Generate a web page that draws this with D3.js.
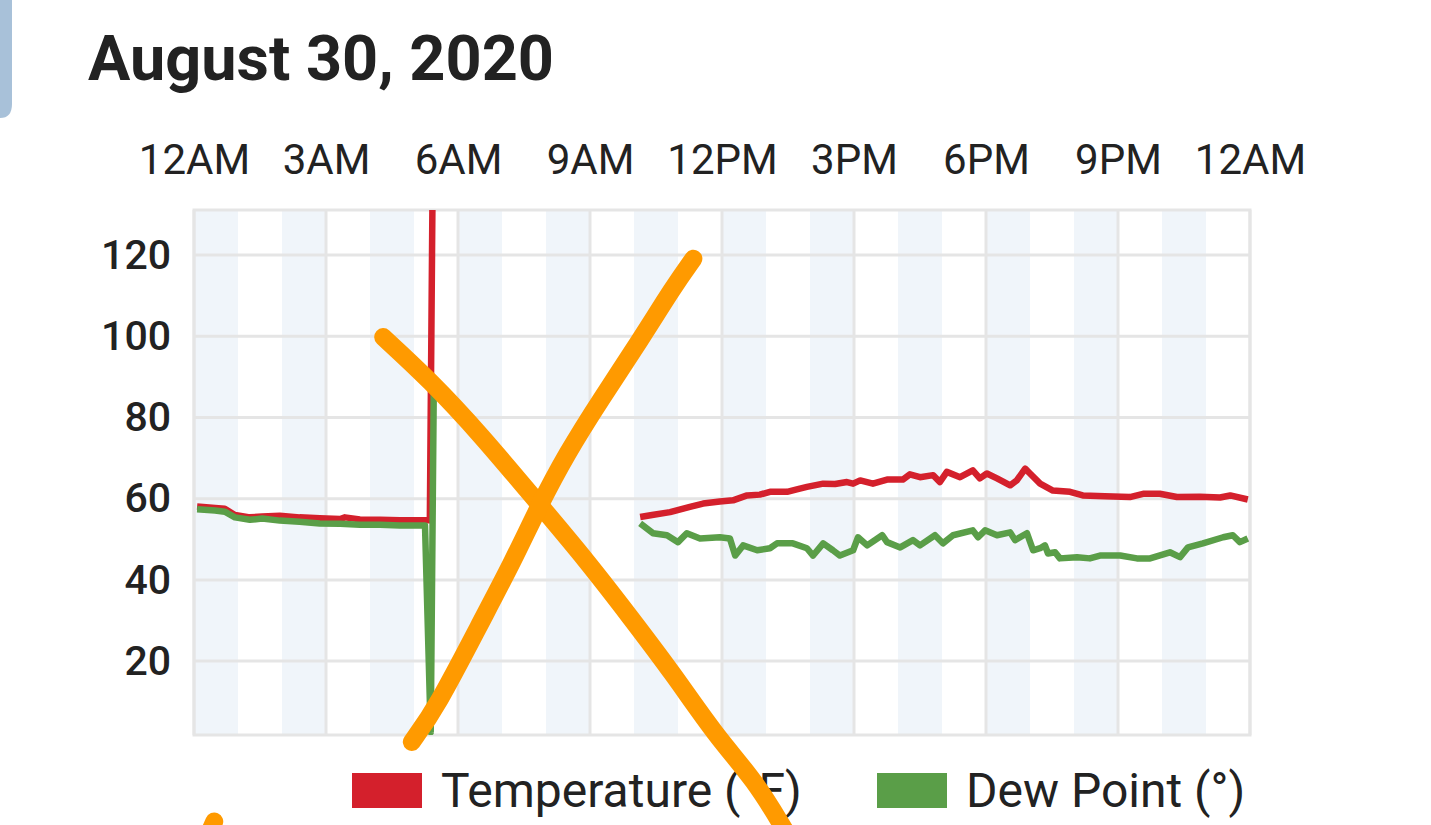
<!DOCTYPE html>
<html><head><meta charset="utf-8">
<script src="https://cdn.jsdelivr.net/npm/d3@7/dist/d3.min.js"></script>
<style>
html,body{margin:0;padding:0;background:#fff;overflow:hidden}
text{font-family:Roboto,"Noto Sans",sans-serif;fill:#222}
</style></head>
<body>
<svg id="c" width="1431" height="825"></svg>
<script>
// ---- data ----
const title = "August 30, 2020";
const xTickHours = [0,3,6,9,12,15,18,21,24];
const xTickLabels = ["12AM","3AM","6AM","9AM","12PM","3PM","6PM","9PM","12AM"];
const yTicks = [20,40,60,80,100,120];
const seriesNames = ["Temperature (°F)","Dew Point (°)"];
const seriesColors = ["#d4202c","#5a9e48"];

// temperature: [hour, value]; null = gap
const tempHours = [0.07,0.48,0.7,0.93,1.27,1.55,1.95,2.4,2.86,3.32,3.43,3.77,4.23,4.68,5.36,5.47,
  null,
  10.14,10.41,10.82,11.27,11.57,11.95,12.25,12.57,12.86,13.09,13.48,13.70,13.93,14.30,14.57,14.84,14.98,15.14,15.43,15.75,16.11,16.27,16.50,16.80,16.95,17.11,17.41,17.70,17.86,18.02,18.25,18.55,18.70,18.89,19.0,19.23,19.52,19.91,20.20,20.70,21.27,21.57,21.95,22.34,22.86,23.32,23.55,23.95];
const tempValues = [58.1,57.7,57.5,56.0,55.4,55.6,55.8,55.4,55.2,55.0,55.4,54.9,54.8,54.7,54.7,200,
  null,
  55.5,56.0,56.7,58.0,58.8,59.3,59.6,60.8,61.0,61.7,61.7,62.3,62.9,63.7,63.6,64.1,63.7,64.5,63.7,64.7,64.7,66.0,65.3,65.8,64.1,66.6,65.3,67.0,65.0,66.2,65.0,63.3,64.5,67.4,66.2,63.7,62.0,61.7,60.8,60.6,60.4,61.2,61.2,60.4,60.5,60.3,60.8,59.8];

const dewHours = [0.07,0.48,0.7,0.93,1.27,1.55,1.95,2.4,2.86,3.32,3.77,4.23,4.68,5.25,5.38,5.45,
  null,
  10.14,10.43,10.75,11.0,11.20,11.5,11.95,12.18,12.30,12.48,12.80,13.09,13.25,13.61,13.93,14.07,14.30,14.52,14.68,14.98,15.09,15.30,15.64,15.75,16.05,16.34,16.50,16.84,17.02,17.25,17.70,17.82,17.98,18.25,18.55,18.66,18.93,19.07,19.23,19.34,19.41,19.57,19.68,20.07,20.36,20.59,21.05,21.43,21.73,22.18,22.41,22.59,22.93,23.39,23.61,23.77,23.95];
const dewValues = [57.4,57.1,56.8,55.4,54.8,55.1,54.6,54.3,53.9,53.8,53.6,53.6,53.4,53.4,2.5,88,
  null,
  53.9,51.5,51.0,49.3,51.5,50.2,50.5,50.2,46.0,48.5,47.3,47.8,49.0,49.0,47.8,46.0,49.0,47.3,46.0,47.3,50.5,48.5,51.0,49.3,48.0,49.8,48.5,51.0,49.0,51.0,52.2,50.5,52.2,51.0,51.7,49.8,51.5,47.3,47.8,48.5,46.5,46.8,45.3,45.6,45.3,46.0,46.0,45.3,45.3,46.8,45.6,48.0,49.0,50.5,51.0,49.3,50.2];

// hand-drawn orange "X" annotation, in chart units [hour, value]
const strokeAHours = [4.30,5.36,6.50,7.83,8.92,9.91,10.89,11.88,12.75,13.43];
const strokeAValues = [99.8,89.2,76.0,58.8,44.8,30.9,16.9,1.3,-9.4,-21.7];
const strokeBHours = [4.95,5.52,6.50,7.26,7.83,8.47,9.23,10.14,10.89,11.35];
const strokeBValues = [0.1,8.7,29.2,44.8,58.0,71.1,84.2,99.0,112.1,119.1];
const strokeCHours = [0.36,0.46];
const strokeCValues = [-22,-19.5];

// ---- layout ----
const svg = d3.select("#c");
const L = 194, R = 1250, T = 210, B = 735;
const x = d3.scaleLinear().domain([0,24]).range([L,R]);
const y = d3.scaleLinear().domain([1.8,131.1]).range([B,T]);

// left decorative tab
svg.append("path")
  .attr("d","M0,0 H12 V104 Q12,118 0,118 Z")
  .attr("fill","#a8c1d9");

// title
svg.append("text").attr("x",88).attr("y",80)
  .attr("font-size",63).attr("font-weight",700).text(title);

// hourly alternating bands
const hours = d3.range(0,24,2);
svg.append("g").selectAll("rect").data(hours).join("rect")
  .attr("x",d=>x(d)).attr("y",T).attr("width",d=>x(d+1)-x(d)).attr("height",B-T)
  .attr("fill","#f0f5fa");

// grid
const grid = svg.append("g").attr("stroke","#e5e5e5").attr("stroke-width",3);
grid.selectAll("line.v").data(xTickHours).join("line")
  .attr("x1",d=>x(d)).attr("x2",d=>x(d)).attr("y1",T).attr("y2",B);
grid.selectAll("line.h").data(yTicks).join("line")
  .attr("x1",L).attr("x2",R).attr("y1",d=>y(d)).attr("y2",d=>y(d));
grid.append("rect").attr("x",L).attr("y",T).attr("width",R-L).attr("height",B-T).attr("fill","none");

// x axis at top
const xAxis = d3.axisTop(x).tickValues(xTickHours).tickFormat((d,i)=>xTickLabels[i]).tickSize(0).tickPadding(0);
const gx = svg.append("g").attr("transform",`translate(0,174)`).call(xAxis);
gx.select(".domain").remove();
gx.selectAll("text").attr("font-size",42).attr("font-family","Roboto").attr("fill","#222").attr("dy",0);

// y axis
const yAxis = d3.axisLeft(y).tickValues(yTicks).tickSize(0).tickPadding(0);
const gy = svg.append("g").attr("transform",`translate(171,0)`).call(yAxis);
gy.select(".domain").remove();
gy.selectAll("text").attr("font-size",41).attr("font-weight",500).attr("font-family","Roboto").attr("fill","#222");

// clip
svg.append("clipPath").attr("id","clip").append("rect")
  .attr("x",L).attr("y",T).attr("width",R-L).attr("height",B-T);

const line = d3.line().defined(d=>d[0]!==null).x(d=>x(d[0])).y(d=>y(d[1])).curve(d3.curveLinear);
const temp = tempHours.map((h,i)=>[h,tempValues[i]]);
const dew = dewHours.map((h,i)=>[h,dewValues[i]]);
const plot = svg.append("g").attr("clip-path","url(#clip)");
plot.append("path").datum(temp).attr("d",line).attr("fill","none")
  .attr("stroke",seriesColors[0]).attr("stroke-width",6.5).attr("stroke-linejoin","round");
plot.append("path").datum(dew).attr("d",line).attr("fill","none")
  .attr("stroke",seriesColors[1]).attr("stroke-width",6.5).attr("stroke-linejoin","round");

// legend
const leg = svg.append("g");
const legX = [352,877];
seriesNames.forEach((n,i)=>{
  leg.append("rect").attr("x",legX[i]).attr("y",773).attr("width",70).attr("height",35).attr("fill",seriesColors[i]);
  leg.append("text").attr("x",legX[i]+89).attr("y",807).attr("font-size",48).text(n);
});

// orange annotation strokes
const pen = d3.line().x(d=>x(d[0])).y(d=>y(d[1])).curve(d3.curveBasis);
[[strokeAHours,strokeAValues],[strokeBHours,strokeBValues],[strokeCHours,strokeCValues]].forEach(([hs,vs])=>{
  svg.append("path").datum(hs.map((h,i)=>[h,vs[i]])).attr("d",pen)
    .attr("fill","none").attr("stroke","#ff9a00").attr("stroke-width",18)
    .attr("stroke-linecap","round").attr("stroke-linejoin","round");
});
</script>
</body></html>
